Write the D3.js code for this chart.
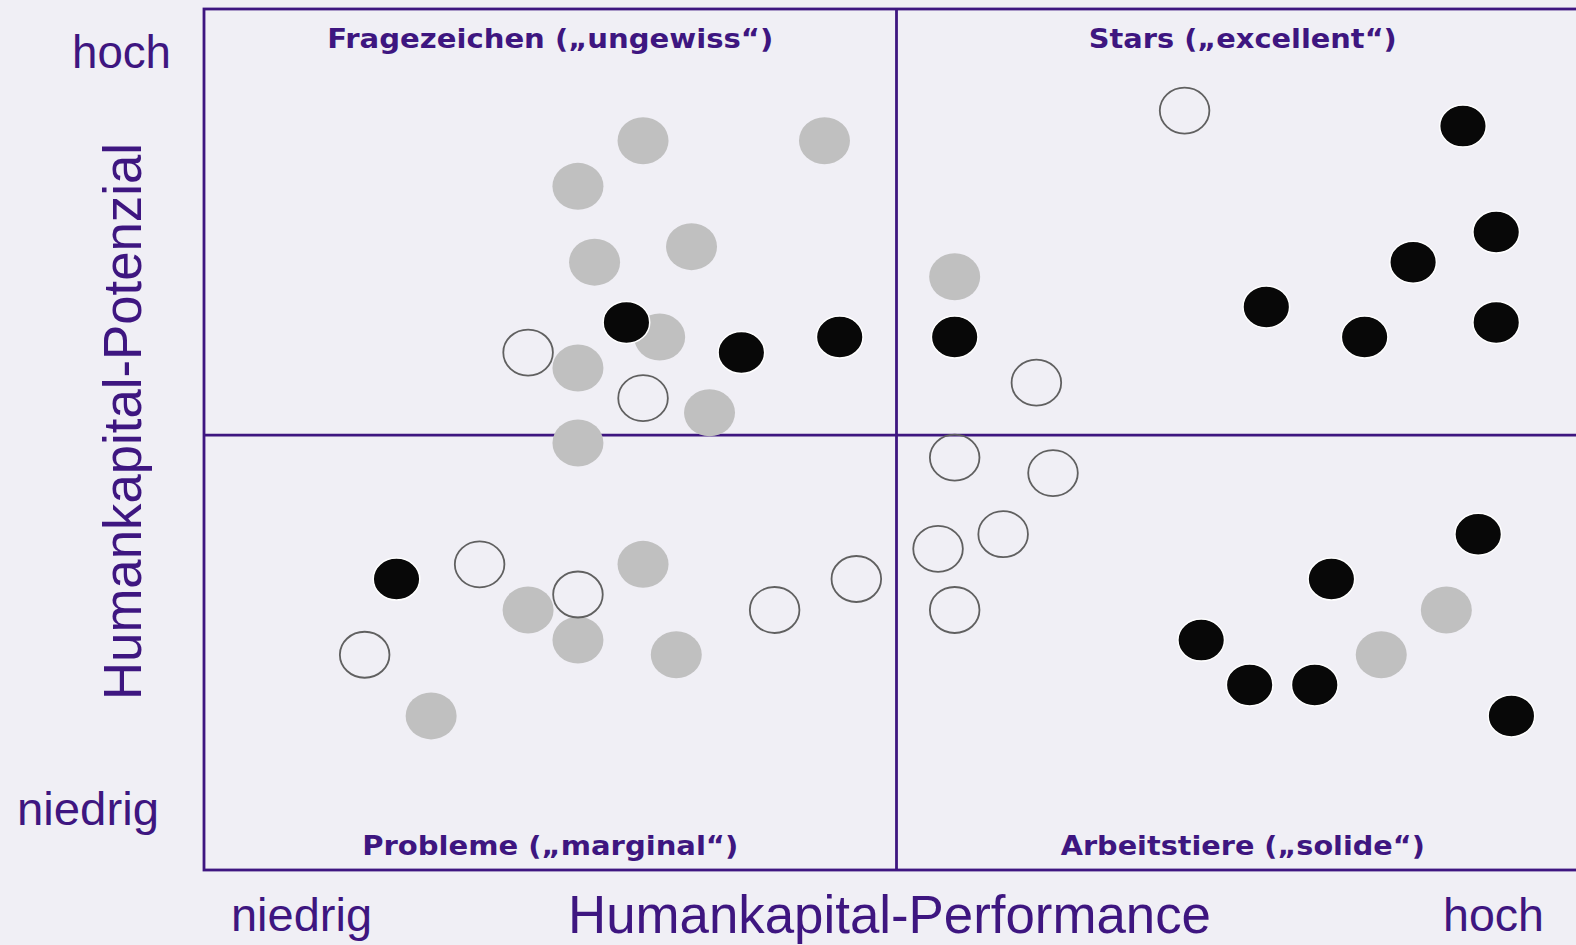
<!DOCTYPE html>
<html lang="de">
<head>
<meta charset="utf-8">
<title>Humankapital-Portfolio</title>
<script src="https://cdn.jsdelivr.net/npm/d3@7/dist/d3.min.js"></script>
<style>
    html, body { margin: 0; padding: 0; background: #f0eff5; overflow: hidden; }
    #chart svg { display: block; }
</style>
</head>
<body>
<div id="chart"></div>
<script>
// point positions: [performance, potenzial], both on a 0..100 scale
const grayPoints = [
    [31.7, 84.7], [44.8, 84.7], [27.0, 79.4], [28.2, 70.6], [35.2, 72.4],
    [32.9, 61.9], [27.0, 58.3], [36.5, 53.1], [27.0, 49.6],
    [54.2, 68.9],
    [23.4, 30.2], [27.0, 26.7], [31.7, 35.5], [34.1, 25.0], [16.4, 17.9],
    [89.7, 30.2], [85.0, 25.0]
];

const openPoints = [
    [23.4, 60.1], [31.7, 54.8],
    [70.8, 88.2], [60.1, 56.6],
    [19.9, 35.5], [27.0, 32.0], [41.2, 30.2], [47.1, 33.8], [11.6, 25.0],
    [54.2, 47.9], [61.3, 46.1], [53.0, 37.3], [57.7, 39.0], [54.2, 30.2]
];

const blackPoints = [
    [30.5, 63.6], [38.8, 60.1], [45.9, 61.9],
    [90.9, 86.4], [93.3, 74.1], [87.3, 70.6], [76.7, 65.4], [83.8, 61.9], [93.3, 63.6], [54.2, 61.9],
    [13.9, 33.8],
    [92.0, 39.0], [81.4, 33.8], [72.0, 26.7], [75.5, 21.5], [80.2, 21.5], [94.4, 17.9]
];

// where the quadrants split
const xSplit = 50;
const ySplit = 50.5;

const quadrantLabels = [
    { text: "Fragezeichen (\u201Eungewiss\u201C)", side: "left", pos: "top" },
    { text: "Stars (\u201Eexcellent\u201C)", side: "right", pos: "top" },
    { text: "Probleme (\u201Emarginal\u201C)", side: "left", pos: "bottom" },
    { text: "Arbeitstiere (\u201Esolide\u201C)", side: "right", pos: "bottom" }
];
const quadrantLabelWidths = [446, 308, 376, 364];

const xTitle = "Humankapital-Performance";
const yTitle = "Humankapital-Potenzial";
const lowLabel = "niedrig";
const highLabel = "hoch";

document.addEventListener("DOMContentLoaded", function() {
    const width = 1576;
    const height = 945;
    const margin = { top: 9, right: -13, bottom: 75, left: 204 };
    const purple = "#3e1680";

    const svg = d3.select("#chart")
        .append("svg")
        .attr("width", width)
        .attr("height", height);

    svg.append("rect")
        .attr("width", width)
        .attr("height", height)
        .attr("fill", "#f0eff5");

    const x = d3.scaleLinear()
        .domain([0, 100])
        .range([margin.left, width - margin.right]);

    const y = d3.scaleLinear()
        .domain([0, 100])
        .range([height - margin.bottom, margin.top]);

    // frame + quadrant lines
    const frame = svg.append("g")
        .attr("fill", "none")
        .attr("stroke", purple)
        .attr("stroke-width", 2.8);

    frame.append("rect")
        .attr("x", x(0))
        .attr("y", y(100))
        .attr("width", x(100) - x(0))
        .attr("height", y(0) - y(100));

    frame.append("line")
        .attr("x1", x(xSplit)).attr("x2", x(xSplit))
        .attr("y1", y(0)).attr("y2", y(100));

    frame.append("line")
        .attr("x1", x(0)).attr("x2", x(100))
        .attr("y1", y(ySplit)).attr("y2", y(ySplit));

    // points
    svg.append("g")
        .selectAll("ellipse")
        .data(grayPoints)
        .enter()
        .append("ellipse")
        .attr("cx", d => x(d[0]))
        .attr("cy", d => y(d[1]))
        .attr("rx", 25.5)
        .attr("ry", 23.5)
        .attr("fill", "#c0c0c0");

    svg.append("g")
        .selectAll("ellipse")
        .data(openPoints)
        .enter()
        .append("ellipse")
        .attr("cx", d => x(d[0]))
        .attr("cy", d => y(d[1]))
        .attr("rx", 24.8)
        .attr("ry", 23)
        .attr("fill", "none")
        .attr("stroke", "#606060")
        .attr("stroke-width", 1.8);

    svg.append("g")
        .selectAll("ellipse")
        .data(blackPoints)
        .enter()
        .append("ellipse")
        .attr("cx", d => x(d[0]))
        .attr("cy", d => y(d[1]))
        .attr("rx", 23.3)
        .attr("ry", 21)
        .attr("fill", "#080808")
        .attr("stroke", "#ffffff")
        .attr("stroke-width", 1.5);

    // quadrant titles
    svg.append("g")
        .selectAll("text")
        .data(quadrantLabels)
        .enter()
        .append("text")
        .attr("x", d => d.side === "left" ? (x(0) + x(xSplit)) / 2 : (x(xSplit) + x(100)) / 2)
        .attr("y", d => d.pos === "top" ? y(100) + 39 : y(0) - 15)
        .attr("text-anchor", "middle")
        .attr("textLength", (d, i) => quadrantLabelWidths[i])
        .attr("lengthAdjust", "spacingAndGlyphs")
        .style("font-family", "'DejaVu Sans', Verdana, sans-serif")
        .style("font-weight", "bold")
        .style("font-size", "26px")
        .style("fill", purple)
        .text(d => d.text);

    const axisText = (str, px, py, len, size) => {
        return svg.append("text")
            .attr("x", px)
            .attr("y", py)
            .attr("textLength", len)
            .attr("lengthAdjust", "spacingAndGlyphs")
            .style("font-family", "'Liberation Sans', Arial, sans-serif")
            .style("font-size", size + "px")
            .style("fill", purple)
            .text(str);
    };

    // y axis words
    axisText(highLabel, 72, 68, 99, 47);
    axisText(lowLabel, 17, 825, 142, 47);
    axisText(yTitle, 0, 0, 557, 54)
        .attr("text-anchor", "middle")
        .attr("transform", `translate(141,421.5) rotate(-90)`);

    // x axis words
    axisText(lowLabel, 231, 931, 141, 47);
    axisText(highLabel, 1443, 931, 101, 47);
    axisText(xTitle, 568, 933, 643, 53);
});
</script>
</body>
</html>
